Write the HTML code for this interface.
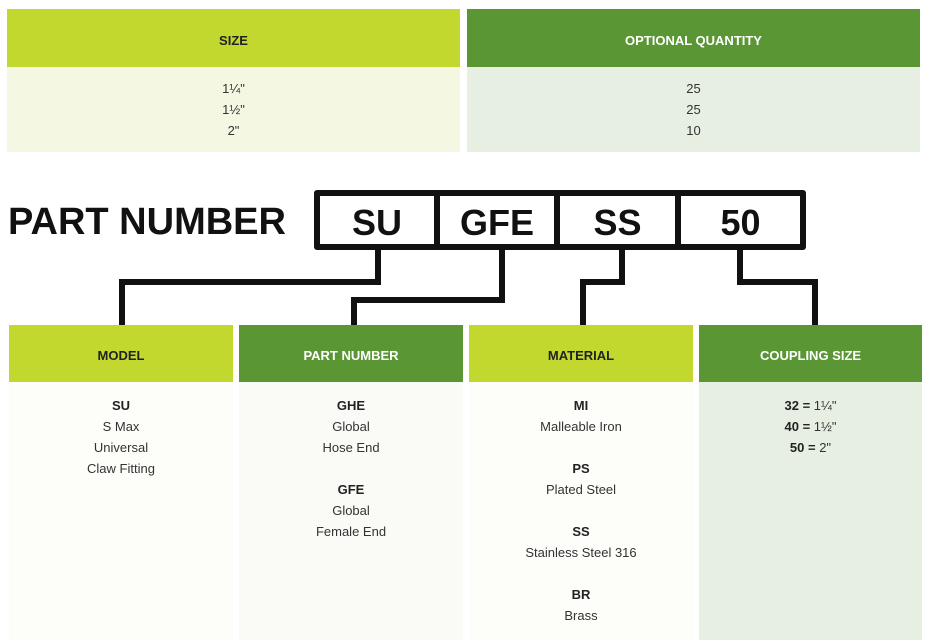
<!DOCTYPE html>
<html><head><style>
body{margin:0;width:926px;height:643px;background:#fff;position:relative;font-family:"Liberation Sans",sans-serif;overflow:hidden}
.a{position:absolute;box-sizing:border-box}
.h{display:flex;align-items:center;justify-content:center;font-weight:bold;font-size:13px;padding-top:4px}
.t{text-align:center;font-size:13px;color:#333;line-height:21px}
.t b{color:#222}
.lg{background:#c2d82f;color:#222}
.dg{background:#5a9734;color:#fff}
.bar{background:#111;position:absolute}
.cell{position:absolute;top:199px;height:48px;font-size:36px;font-weight:bold;display:flex;align-items:center;justify-content:center;color:#111}
</style></head><body>
<div class="a h lg" style="left:7px;top:9px;width:453px;height:58px">SIZE</div>
<div class="a h dg" style="left:467px;top:9px;width:453px;height:58px">OPTIONAL QUANTITY</div>
<div class="a t" style="left:7px;top:67px;width:453px;height:85px;background:#f4f8e2;padding-top:11px;line-height:21px">1¼"<br>1½"<br>2"</div>
<div class="a t" style="left:467px;top:67px;width:453px;height:85px;background:#e6efe2;padding-top:11px;line-height:21px">25<br>25<br>10</div>

<div class="a" style="left:8px;top:201px;font-size:38px;font-weight:bold;color:#111;letter-spacing:0px">PART NUMBER</div>
<div class="a" style="left:314px;top:190px;width:492px;height:60px;border:6px solid #111;border-radius:3px"></div>
<div class="bar" style="left:434px;top:190px;width:6px;height:60px"></div>
<div class="bar" style="left:554px;top:190px;width:6px;height:60px"></div>
<div class="bar" style="left:675px;top:190px;width:6px;height:60px"></div>
<div class="cell" style="left:320px;width:114px">SU</div>
<div class="cell" style="left:440px;width:114px">GFE</div>
<div class="cell" style="left:560px;width:115px">SS</div>
<div class="cell" style="left:681px;width:119px">50</div>

<svg class="a" style="left:0;top:0" width="926" height="643">
<g fill="none" stroke="#111" stroke-width="6">
<polyline points="378,250 378,282 122,282 122,326"/>
<polyline points="502,250 502,300 354,300 354,326"/>
<polyline points="622,250 622,282 583,282 583,326"/>
<polyline points="740,250 740,282 815,282 815,326"/>
</g></svg>

<div class="a h lg" style="left:9px;top:325px;width:224px;height:57px">MODEL</div>
<div class="a h dg" style="left:239px;top:325px;width:224px;height:57px">PART NUMBER</div>
<div class="a h lg" style="left:469px;top:325px;width:224px;height:57px">MATERIAL</div>
<div class="a h dg" style="left:699px;top:325px;width:223px;height:57px">COUPLING SIZE</div>

<div class="a t" style="left:9px;top:382px;width:224px;height:258px;background:#fdfdf9;padding-top:13px"><b>SU</b><br>S Max<br>Universal<br>Claw Fitting</div>
<div class="a t" style="left:239px;top:382px;width:224px;height:258px;background:#fafbf7;padding-top:13px"><b>GHE</b><br>Global<br>Hose End<br><br><b>GFE</b><br>Global<br>Female End</div>
<div class="a t" style="left:469px;top:382px;width:224px;height:258px;background:#fdfdf9;padding-top:13px"><b>MI</b><br>Malleable Iron<br><br><b>PS</b><br>Plated Steel<br><br><b>SS</b><br>Stainless Steel 316<br><br><b>BR</b><br>Brass</div>
<div class="a t" style="left:699px;top:382px;width:223px;height:258px;background:#e6efe2;padding-top:13px"><b>32 =</b> 1¼"<br><b>40 =</b> 1½"<br><b>50 =</b> 2"</div>
</body></html>
